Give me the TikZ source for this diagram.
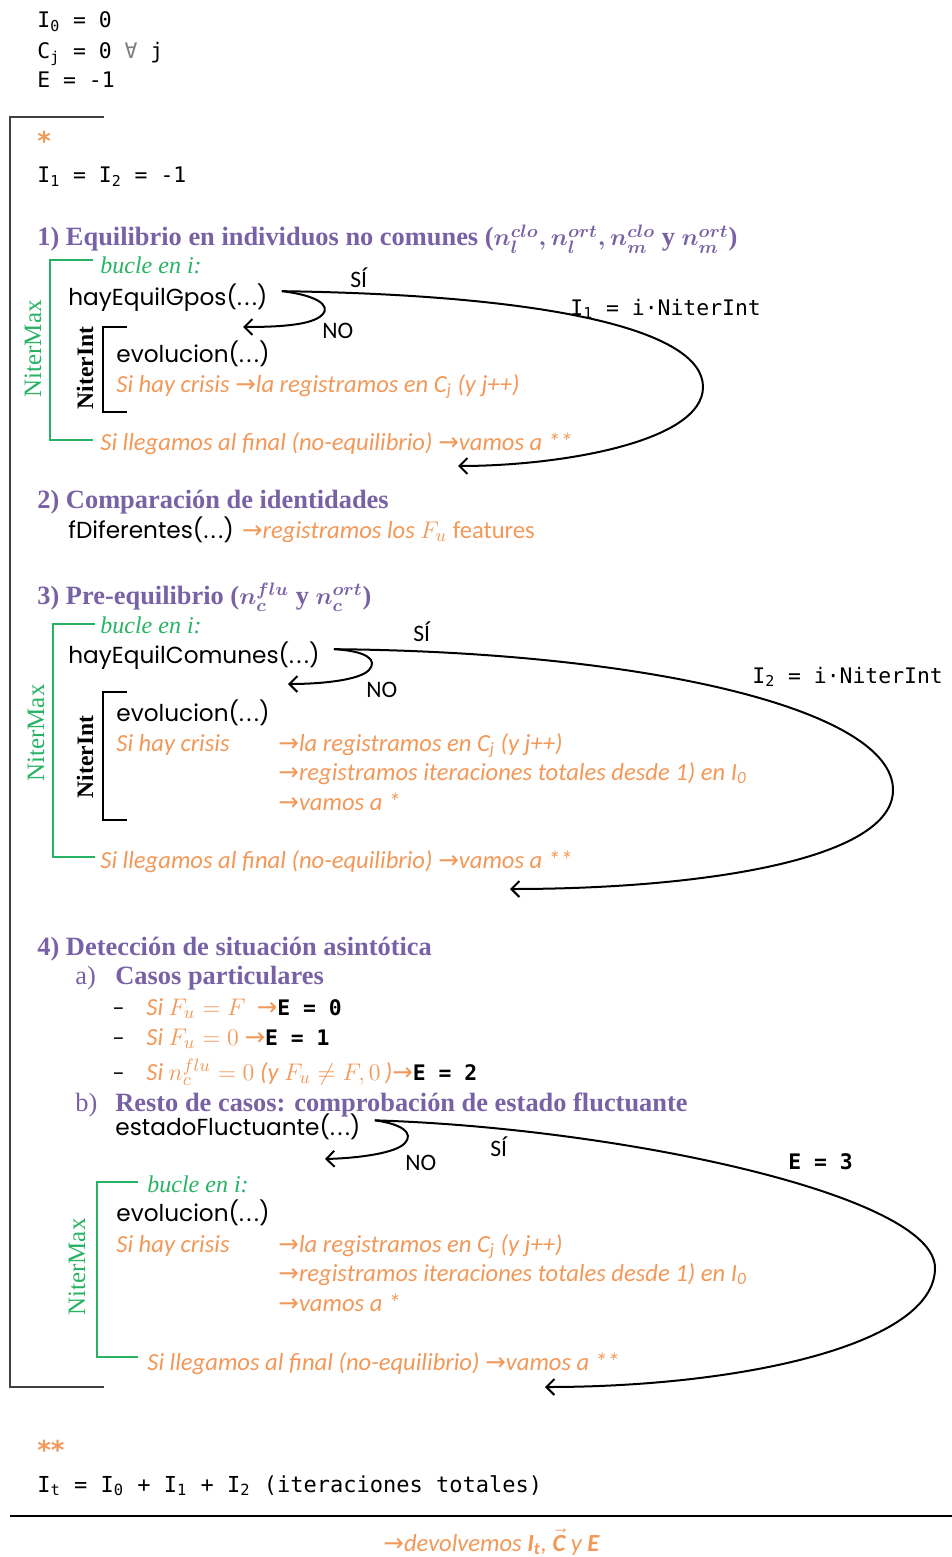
\documentclass[tikz,border=0pt]{standalone}
\usepackage{fontspec}
\setmainfont{Liberation Serif}
\newfontfamily\monof{DejaVu Sans Mono}
\newfontfamily\gothf{Poppins}
\newfontfamily\calf{Carlito}
\newfontfamily\symf{DejaVu Sans}
\usetikzlibrary{arrows.meta}
\definecolor{purp}{RGB}{120,98,165}
\definecolor{orng}{RGB}{242,152,88}
\definecolor{grn}{RGB}{40,178,100}
\definecolor{brk}{RGB}{64,64,64}
\newcommand{\myarr}{{\symf\char"2192}}
\newcommand{\gdots}{.\kern1.3pt.\kern1.3pt.}
\newcommand{\eval}[1]{{\upshape\color{black}\monof\bfseries\fontsize{10.7}{12}\selectfont #1}}
\tikzset{
  txt/.style={anchor=base west, inner sep=0pt},
  mono/.style={txt, font=\monof\fontsize{10.7}{12}\selectfont},
  monob/.style={txt, font=\monof\bfseries\fontsize{10.7}{12}\selectfont},
  head/.style={txt, text=purp, font=\bfseries\boldmath\fontsize{13.2}{15}\selectfont},
  goth/.style={txt, font=\gothf\fontsize{11.6}{13}\selectfont},
  note/.style={txt, text=orng, font=\calf\itshape\fontsize{12.3}{14}\selectfont},
  stars/.style={txt, text=orng, font=\symf\bfseries\fontsize{13}{15}\selectfont},
  loopl/.style={txt, text=grn, font=\itshape\fontsize{12}{14}\selectfont},
  yesno/.style={txt, font=\calf\fontsize{11.8}{13}\selectfont},
  vmax/.style={rotate=90, inner sep=0pt, text=grn, font=\fontsize{12.5}{14}\selectfont},
  vint/.style={rotate=90, inner sep=0pt, font=\bfseries\fontsize{11.8}{14}\selectfont},
  conn/.style={line width=1pt, -{Straight Barb[length=4pt,width=8pt,line width=1pt]}},
  gbr/.style={draw=grn, line width=0.9pt},
  kbr/.style={draw=black, line width=0.9pt},
  bigbr/.style={draw=brk, line width=1pt},
}
\begin{document}
\begin{tikzpicture}[x=0.5pt,y=-0.5pt]
\useasboundingbox (0,0) rectangle (952,1557);
% initial values
\node[mono] (i0) at (37,28) {I\textsubscript{0} = 0};
\node[mono] (cj) at (37,59) {C\textsubscript{j} = 0 {\color{gray}∀} j};
\node[mono] (e0) at (37,88) {E = -1};
% big bracket
\draw[bigbr] (104,117) -- (10,117) -- (10,1387) -- (104,1387);
\node[stars] (star1) at (37,151) {*};
\node[mono] (i12) at (37,183) {I\textsubscript{1} = I\textsubscript{2} = -1};
% section 1
\node[head] (h1) at (37,246) {1) Equilibrio en individuos no comunes ($n_l^{clo}, n_l^{ort}, n_m^{clo}$ y\ $n_m^{ort}$)};
\draw[gbr] (93,260) -- (50,260) -- (50,440) -- (93,440);
\node[vmax] (nm1) at (33,349) {NiterMax};
\node[loopl] (bucle1) at (100,273) {bucle en i:};
\node[goth] (hay1) at (68,305) {hayEquilGpos(\gdots)};
\draw[kbr] (127,327) -- (103,327) -- (103,412) -- (127,412);
\node[vint] (ni1) at (85,368) {NiterInt};
\node[goth] (evo1) at (116,362) {evolucion(\gdots)};
\node[note] (cri1) at (116,392) {Si hay crisis \myarr la registramos en C\textsubscript{j} (y j++)};
\node[note] (lleg1) at (100,450) {Si llegamos al final (no-equilibrio) \myarr vamos a **};
\node[yesno] (si1) at (350,287) {SÍ};
\node[yesno] (no1) at (322,338) {NO};
\node[mono] (lab1) at (570,315) {I\textsubscript{1} = i·NiterInt};
\coordinate (s1) at ([xshift=7pt,yshift=3pt]hay1.east);
\coordinate (t1) at (458,466);
\coordinate (r1) at (243,327);
\draw[conn] (s1) .. controls (550,295) and (703,330) .. (703,387) .. controls (703,442) and (560,466) .. (t1);
\draw[conn] (s1) .. controls (315,295) and (332,305) .. (322,315) .. controls (312,325) and (280,327) .. (r1);
% section 2
\node[head] (h2) at (37,508) {2) Comparación de identidades};
\node[goth] (fdif) at (68,538) {fDiferentes(\gdots) {\color{orng}\calf\itshape\fontsize{12.3}{14}\selectfont\myarr registramos los $F_u$ \upshape features}};
% section 3
\node[head] (h3) at (37,604) {3) Pre-equilibrio ($n_c^{flu}$ y\ $n_c^{ort}$)};
\draw[gbr] (95,624) -- (53,624) -- (53,857) -- (95,857);
\node[vmax] (nm2) at (36,733) {NiterMax};
\node[loopl] (bucle2) at (100,633) {bucle en i:};
\node[goth] (hay2) at (68,663) {hayEquilComunes(\gdots)};
\draw[kbr] (127,692) -- (103,692) -- (103,820) -- (127,820);
\node[vint] (ni2) at (85,757) {NiterInt};
\node[goth] (evo2) at (116,721) {evolucion(\gdots)};
\node[note] (cri2) at (116,751) {Si hay crisis};
\node[note] (cri2a) at (278,751) {\myarr la registramos en C\textsubscript{j} (y j++)};
\node[note] (cri2b) at (278,780) {\myarr registramos iteraciones totales desde 1) en I\textsubscript{0}};
\node[note] (cri2c) at (278,810) {\myarr vamos a *};
\node[note] (lleg2) at (100,868) {Si llegamos al final (no-equilibrio) \myarr vamos a **};
\node[yesno] (si2) at (413,641) {SÍ};
\node[yesno] (no2) at (366,697) {NO};
\node[mono] (lab2) at (752,683) {I\textsubscript{2} = i·NiterInt};
\coordinate (s2) at ([xshift=7pt,yshift=3pt]hay2.east);
\coordinate (t2) at (510,889);
\coordinate (r2) at (288,684);
\draw[conn] (s2) .. controls (650,652) and (893,710) .. (893,790) .. controls (893,860) and (700,889) .. (t2);
\draw[conn] (s2) .. controls (367,651) and (378,660) .. (369,670) .. controls (360,680) and (322,684) .. (r2);
% section 4
\node[head] (h4) at (37,955) {4) Detección de situación asintótica};
\node[head] (h4a) at (75,984) {\makebox[20pt][l]{\mdseries a)}Casos particulares};
\node[note] (c1) at (112,1015) {\makebox[17pt][l]{\color{black}\upshape –}Si $F_u = F$\ \ \myarr\eval{E = 0}};
\node[note] (c2) at (112,1045) {\makebox[17pt][l]{\color{black}\upshape –}Si $F_u = 0$ \myarr\eval{E = 1}};
\node[note] (c3) at (112,1080) {\makebox[17pt][l]{\color{black}\upshape –}Si $n_c^{flu} = 0$ (y $F_u \neq F, 0$\,)\myarr\eval{E = 2}};
\node[head] (h4b) at (75,1111) {\makebox[20pt][l]{\mdseries b)}Resto de casos: comprobación de estado fluctuante};
\node[goth] (est) at (115,1135) {estadoFluctuante(\gdots)};
\node[yesno] (no3) at (405,1170) {NO};
\node[yesno] (si3) at (490,1156) {SÍ};
\node[monob] (lab3) at (788,1169) {E = 3};
\coordinate (s3) at ([xshift=7pt,yshift=3pt]est.east);
\coordinate (t3) at (545,1387);
\coordinate (r3) at (325,1159);
\draw[conn] (s3) .. controls (620,1128) and (935,1195) .. (935,1268) .. controls (935,1345) and (740,1387) .. (t3);
\draw[conn] (s3) .. controls (402,1124) and (414,1133) .. (405,1143) .. controls (396,1153) and (360,1158) .. (r3);
\draw[gbr] (138,1182) -- (97,1182) -- (97,1357) -- (138,1357);
\node[vmax] (nm3) at (77,1267) {NiterMax};
\node[loopl] (bucle3) at (147,1192) {bucle en i:};
\node[goth] (evo3) at (116,1221) {evolucion(\gdots)};
\node[note] (cri3) at (116,1252) {Si hay crisis};
\node[note] (cri3a) at (278,1252) {\myarr la registramos en C\textsubscript{j} (y j++)};
\node[note] (cri3b) at (278,1281) {\myarr registramos iteraciones totales desde 1) en I\textsubscript{0}};
\node[note] (cri3c) at (278,1311) {\myarr vamos a *};
\node[note] (lleg3) at (147,1370) {Si llegamos al final (no-equilibrio) \myarr vamos a **};
% end
\node[stars] (star2) at (37,1459) {**};
\node[mono, font=\monof\fontsize{11}{13}\selectfont] (itot) at (37,1492) {I\textsubscript{t} = I\textsubscript{0} + I\textsubscript{1} + I\textsubscript{2} (iteraciones totales)};
\draw[line width=1pt] (10,1516) -- (952,1516);
\node[note] (dev) at (383,1551) {\myarr devolvemos \textbf{I\textsubscript{t}}, $\vec{\textbf{C}}$ y \textbf{E}};
\end{tikzpicture}
\end{document}
